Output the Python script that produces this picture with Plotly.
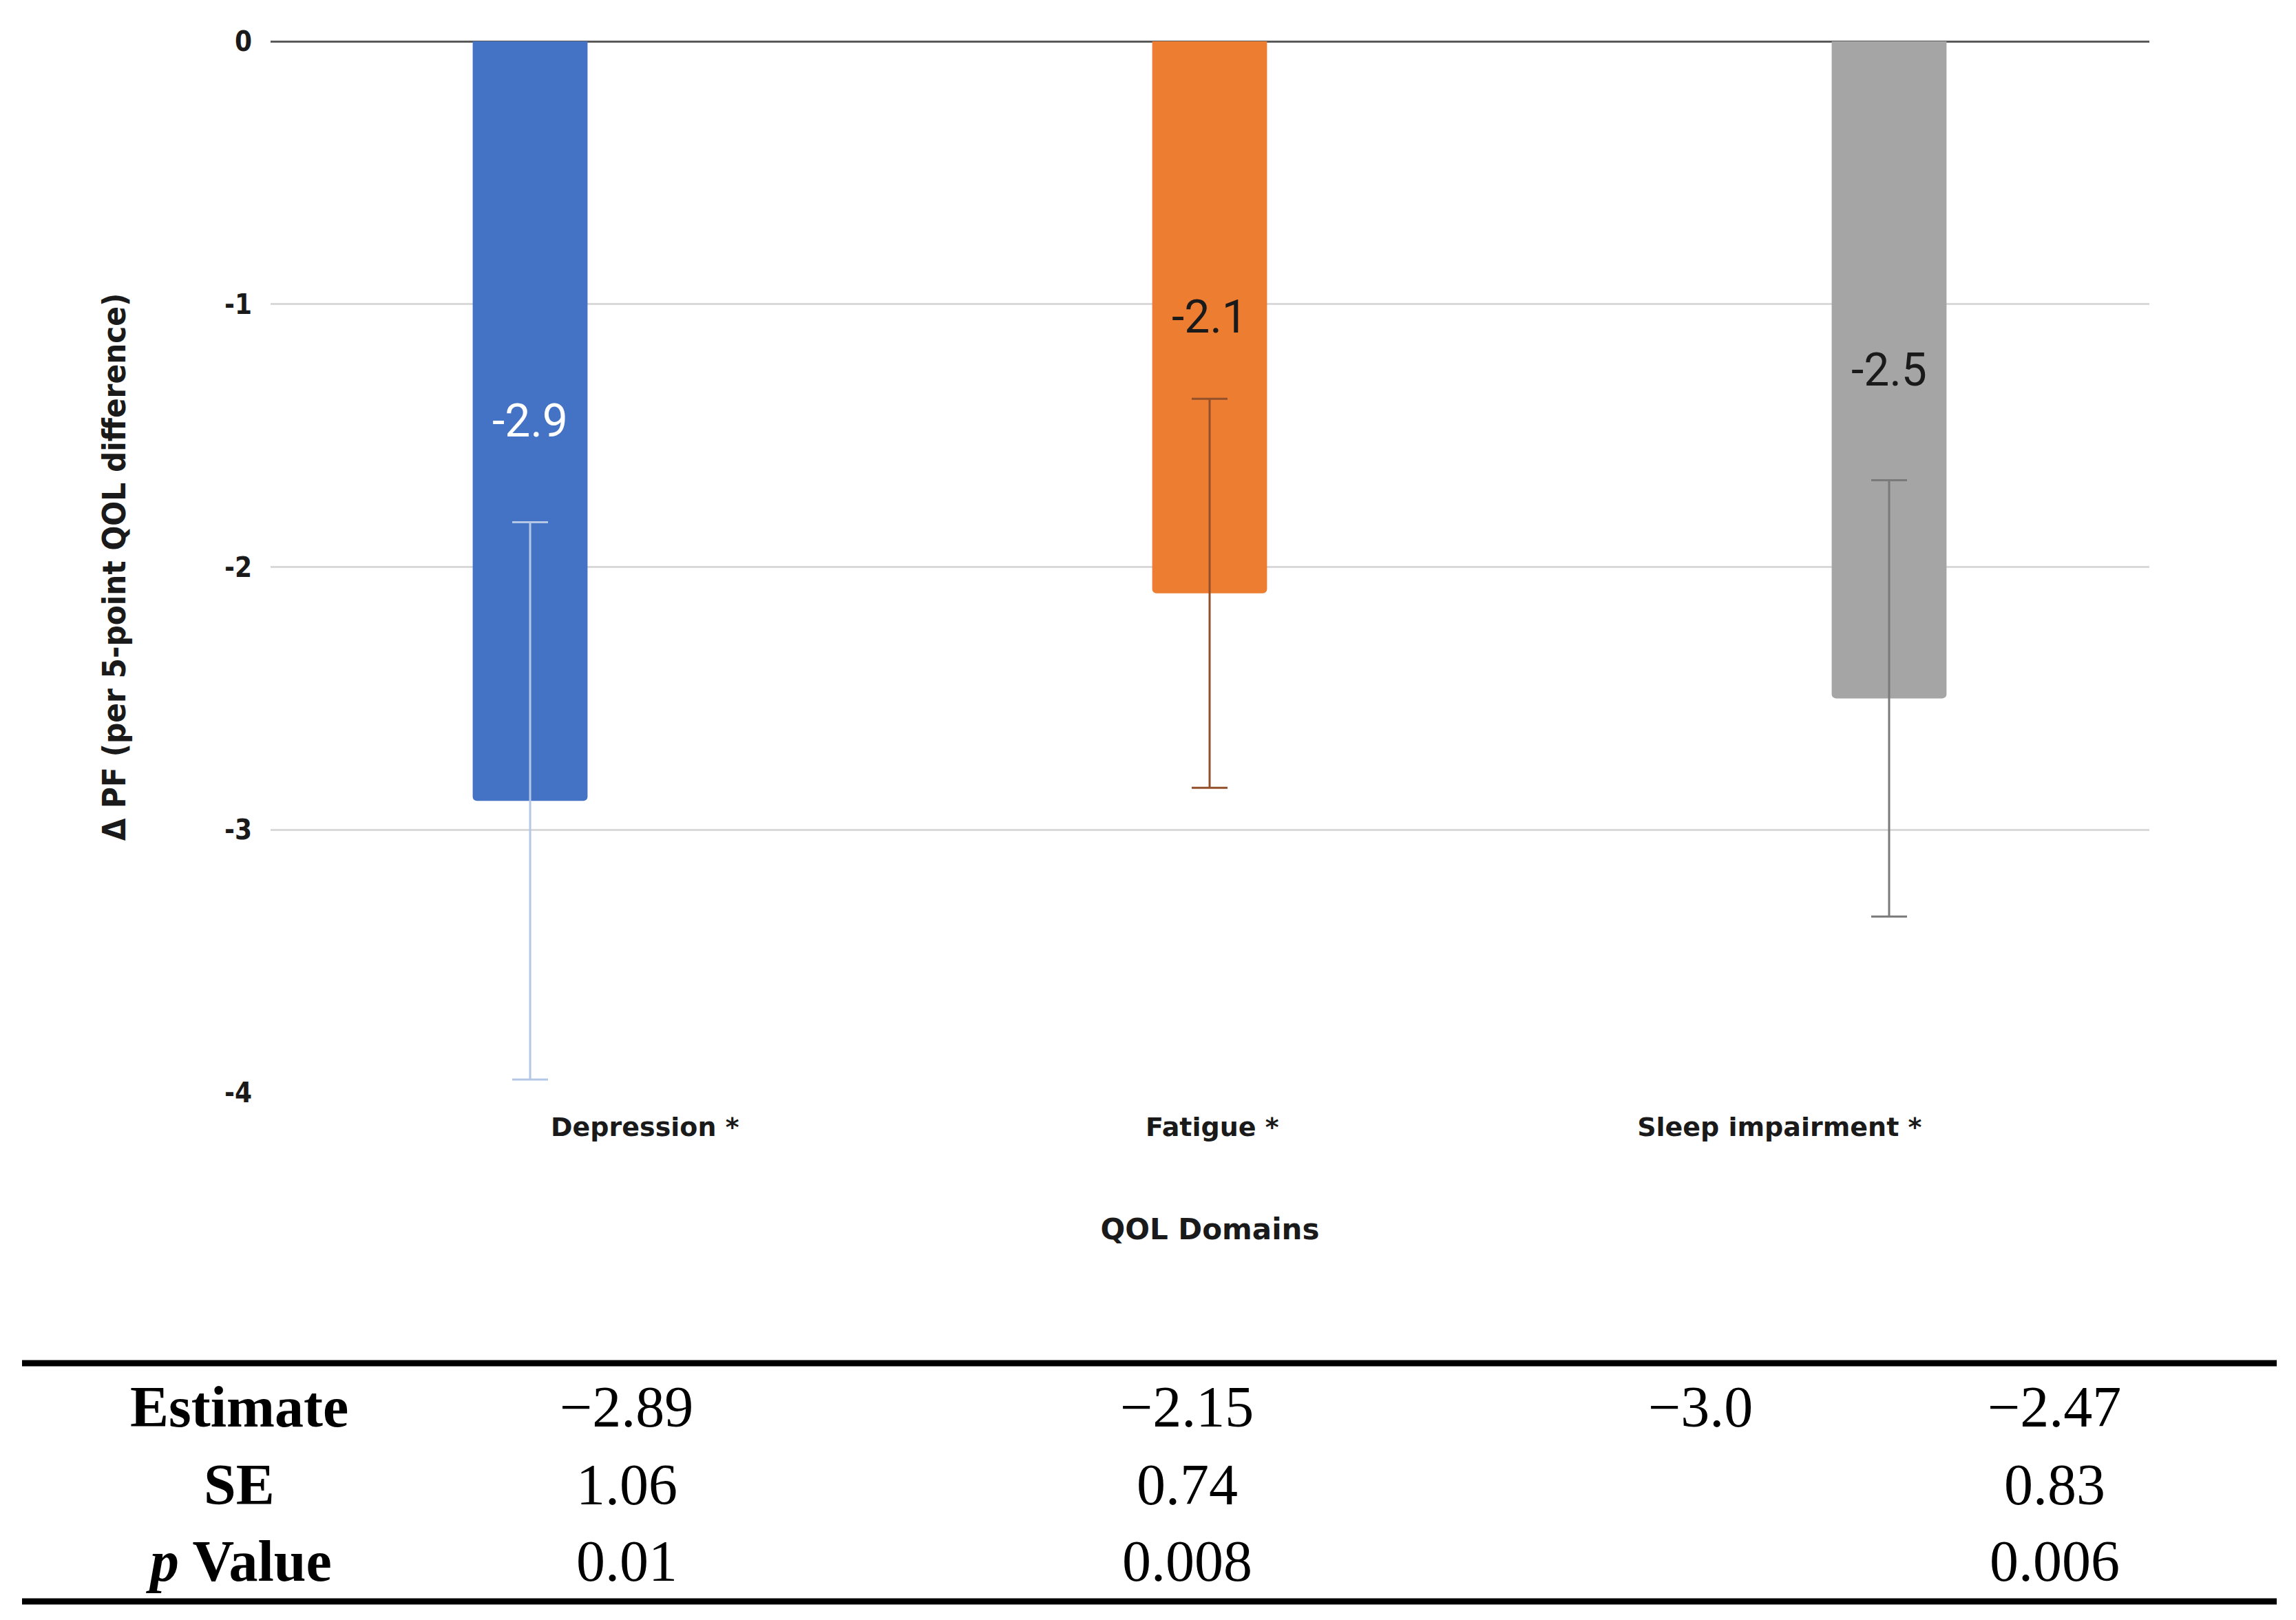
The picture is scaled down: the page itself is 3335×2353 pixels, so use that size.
import plotly.graph_objects as go

# ---- data ----
categories = ["Depression *", "Fatigue *", "Sleep impairment *"]
values = [-2.89, -2.10, -2.50]
errors = [1.06, 0.74, 0.83]
y_ticks = [0, -1, -2, -3, -4]
y_ticklabels = ["0", "-1", "-2", "-3", "-4"]

row_labels = ["<b>Estimate</b>", "<b>SE</b>", "<b><i>p</i> Value</b>"]
estimate_row = ["\u22122.89", "\u22122.15", "\u22123.0", "\u22122.47"]
se_row = ["1.06", "0.74", "", "0.83"]
p_row = ["0.01", "0.008", "", "0.006"]

# ---- styles ----
bar_colors = ["#4472C4", "#ED7D31", "#A5A5A5"]
err_colors = ["#B4C7E7", "#94502A", "#7A7A7A"]
label_colors = ["#FFFFFF", "#1A1A1A", "#1A1A1A"]

W, H = 3335, 2353
OFF = 8  # page body offset


def px(x):
    return (x - OFF) / W


def py(y):
    return 1 - (y - OFF) / H


x_dom = [px(393), px(3122)]
y_dom = [py(1587), py(60)]

fig = go.Figure()
for i, cat in enumerate(categories):
    fig.add_trace(go.Bar(
        x=[i], y=[values[i]], width=0.169,
        marker=dict(color=bar_colors[i], line=dict(width=0), cornerradius=6),
        error_y=dict(type="data", array=[errors[i]], color=err_colors[i],
                     thickness=3, width=26),
        text=[f"{values[i]:.1f}"], textposition="inside",
        insidetextanchor="middle", textangle=0,
        textfont=dict(family="Roboto", size=66, color=label_colors[i]),
        showlegend=False, hoverinfo="skip", name=cat,
    ))

# helper trace on the label axis
fig.add_trace(go.Scatter(
    x=list(range(len(categories))), y=values, xaxis="x2", mode="markers",
    marker=dict(opacity=0), showlegend=False, hoverinfo="skip",
))

cond = "DejaVu Sans Condensed, DejaVu Sans, sans-serif"
fig.update_layout(
    template="none",
    width=W, height=H,
    margin=dict(l=0, r=0, t=0, b=0),
    paper_bgcolor="white", plot_bgcolor="white",
    barmode="overlay",
    xaxis=dict(domain=x_dom, range=[-0.382, 2.383], showticklabels=False,
               showgrid=False, zeroline=False, showline=False, ticks="",
               automargin=False),
    xaxis2=dict(domain=x_dom, overlaying="x", anchor="y", side="bottom",
                range=[-0.66, 2.652], tickvals=list(range(len(categories))),
                ticktext=categories, showgrid=False, zeroline=False,
                showline=False, ticks="", ticklabelstandoff=24,
                tickfont=dict(family="DejaVu Sans", size=38, color="#1A1A1A",
                              weight="bold"),
                title=dict(text="QOL Domains", standoff=112,
                           font=dict(family="DejaVu Sans", size=42,
                                     color="#1A1A1A", weight="bold")),
                automargin=False),
    yaxis=dict(domain=y_dom, range=[-4, 0], tickvals=y_ticks,
               ticktext=y_ticklabels, showgrid=True, gridcolor="#D9D9D9",
               gridwidth=3, zeroline=True, zerolinecolor="#5A5A5A",
               zerolinewidth=3, showline=False, ticks="",
               ticklabelstandoff=26,
               tickfont=dict(family=cond, size=40, color="#1A1A1A",
                             weight="bold"),
               title=dict(text="\u0394 PF (per 5-point QOL difference)",
                          standoff=128,
                          font=dict(family=cond, size=47, color="#1A1A1A",
                                    weight="bold")),
               automargin=False),
)

# ---- table below the chart ----
col_x = [px(347), px(910), px(1724), px(2470), px(2984)]
row_y = [py(2043), py(2156), py(2267)]
line_y = [py(1980), py(2326)]
line_x = [px(32), px(3307)]

table_rows = [estimate_row, se_row, p_row]
serif = "Liberation Serif, Times New Roman, serif"
for r, (lab, vals) in enumerate(zip(row_labels, table_rows)):
    fig.add_annotation(x=col_x[0], y=row_y[r], xref="paper", yref="paper",
                       text=lab, showarrow=False, xanchor="center",
                       yanchor="middle",
                       font=dict(family=serif, size=84, color="black"))
    for c, v in enumerate(vals):
        if v:
            fig.add_annotation(x=col_x[c + 1], y=row_y[r], xref="paper",
                               yref="paper", text=v, showarrow=False,
                               xanchor="center", yanchor="middle",
                               font=dict(family=serif, size=84, color="black"))

for ly in line_y:
    fig.add_shape(type="line", xref="paper", yref="paper",
                  x0=line_x[0], x1=line_x[1], y0=ly, y1=ly,
                  line=dict(color="black", width=9))

fig.write_html("out.html")
